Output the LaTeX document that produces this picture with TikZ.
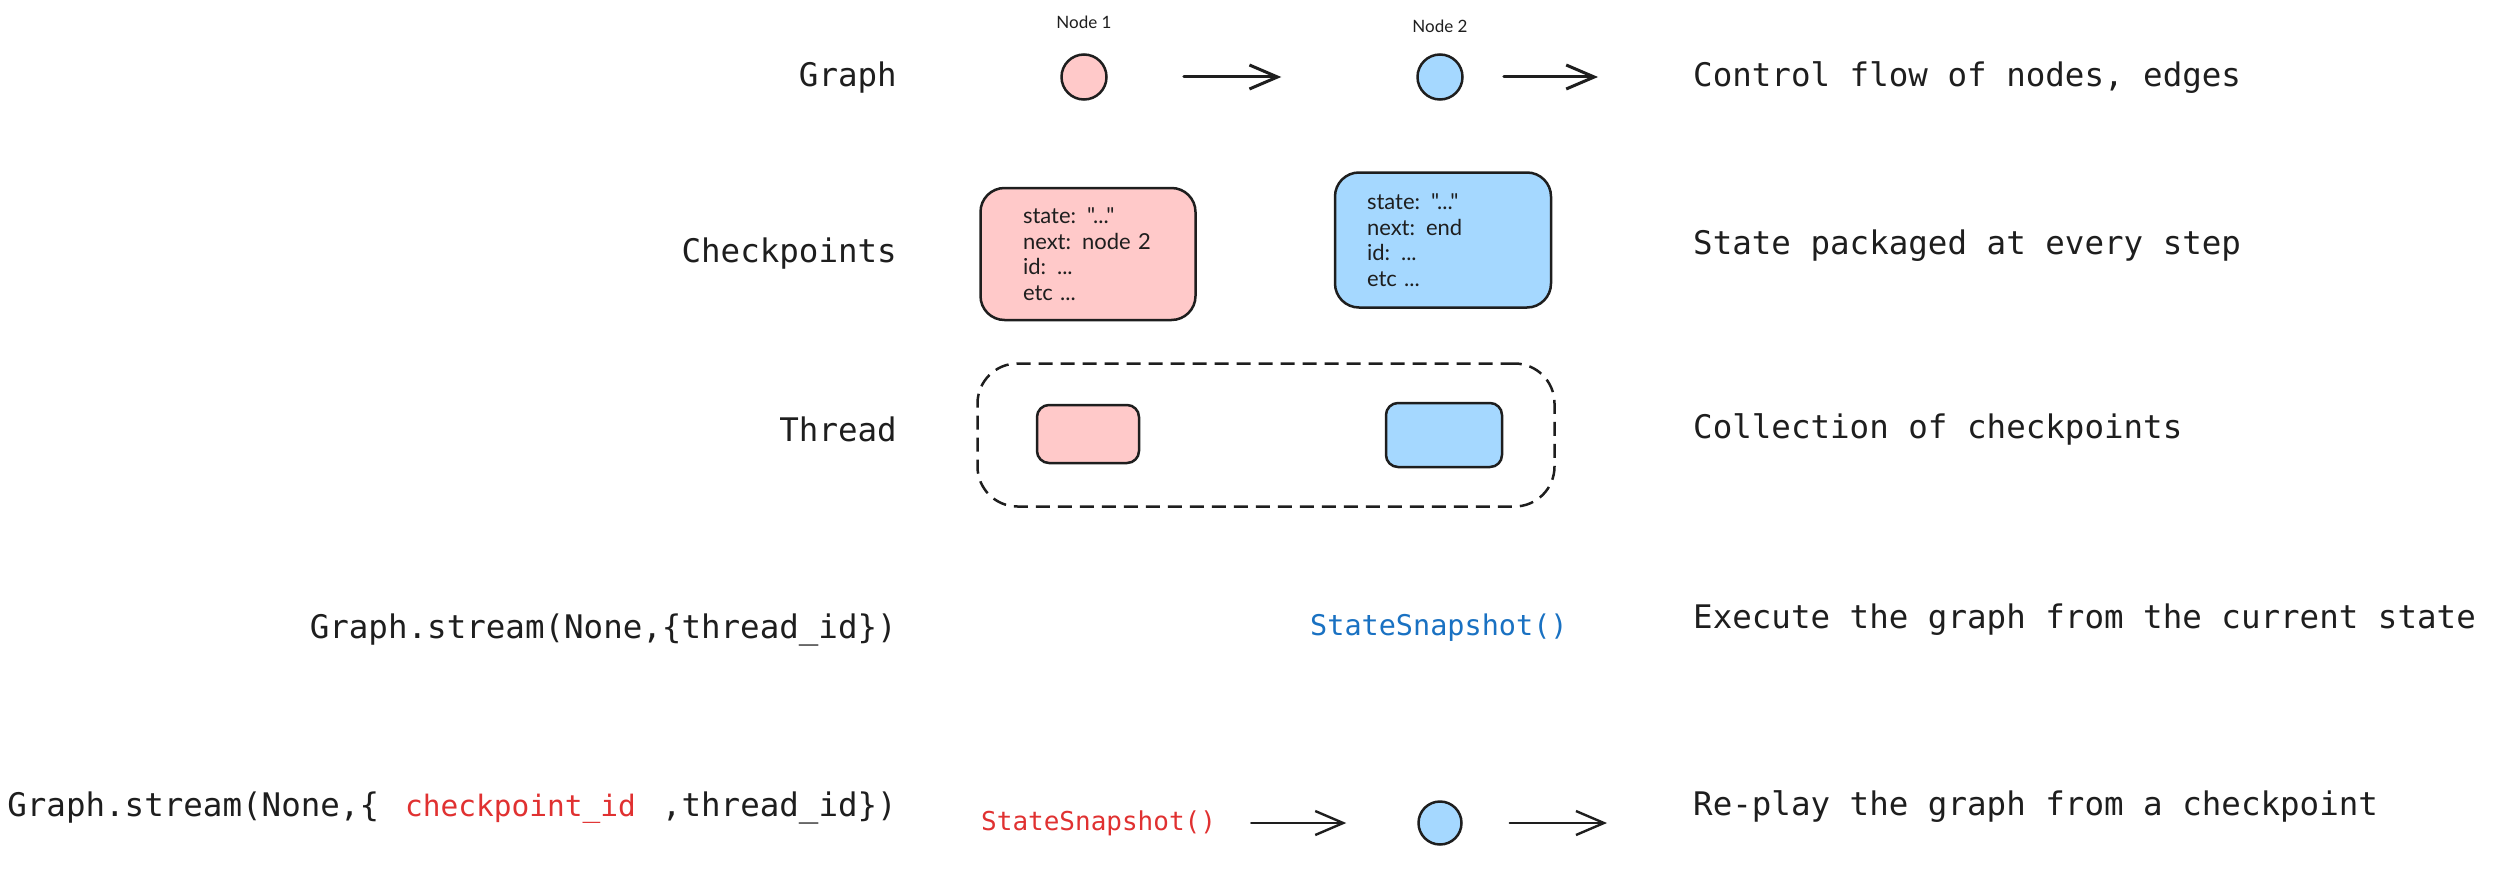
\documentclass[tikz,border=0pt]{standalone}
\usepackage{fontspec}
\usepackage{xcolor}
\usepackage{tikz}
\usetikzlibrary{positioning,arrows.meta}
\setmonofont{DejaVu Sans Mono}
\newfontfamily\handfont{Lato}
\definecolor{inkdark}{HTML}{1E1E1E}
\definecolor{nodepink}{HTML}{FFC9C9}
\definecolor{nodeblue}{HTML}{A5D8FF}
\definecolor{codeblue}{HTML}{1971C2}
\definecolor{codered}{HTML}{E03131}

\begin{document}
\begin{tikzpicture}[
  x=1pt, y=-1pt,
  lbl/.style={font=\ttfamily\fontsize{32.5}{39}\selectfont, text=inkdark, inner sep=0pt},
  rowlbl/.style={lbl, anchor=east},
  desc/.style={lbl, anchor=west},
  gnode/.style={circle, draw=inkdark, line width=2.5pt, minimum size=45pt, inner sep=0pt},
  card/.style={draw=inkdark, line width=2.5pt, rounded corners=24pt, inner sep=0pt, align=left,
    font=\handfont\fontsize{22}{25.5}\selectfont, text=inkdark},
  chip/.style={draw=inkdark, line width=2.5pt, rounded corners=12pt, inner sep=0pt},
  tag/.style={font=\handfont\fontsize{17}{20}\selectfont, text=inkdark, inner sep=0pt},
  arr/.style={-{Straight Barb[length=28pt,width=24pt]}, line width=3pt, draw=inkdark, line cap=round}
]
\useasboundingbox (0,0) rectangle (2493,875);

% left column
\node[rowlbl] (graphlbl) at (897,78) {Graph};
\node[rowlbl] (cplbl) at (897,254) {Checkpoints};
\node[rowlbl] (thrlbl) at (897,429) {Thread};
\node[rowlbl] (streamlbl) at (897,630) {Graph.stream(None,\{thread\_id\})};
\node[rowlbl] (replaylbl) at (897,808) {Graph.stream(None,\{\hspace{26pt}{\fontsize{29.5}{35}\selectfont\color{codered}checkpoint\_id}\hspace{26pt},thread\_id\})};

% graph row
\node[gnode, fill=nodepink] (n1) at (1084,77) {};
\node[tag] (n1l) at (1084,22) {Node 1};
\node[gnode, fill=nodeblue] (n2) at (1440,77) {};
\node[tag] (n2l) at (1440,26) {Node 2};
\coordinate (n2out) at (1598,77);
\draw[arr, shorten <=76pt, shorten >=135pt] (n1) -- (n2);
\draw[arr, shorten <=40pt] (n2) -- (n2out);

% checkpoints row
\node[card, fill=nodepink, minimum width=215pt, minimum height=132pt, text width=130pt] (cp1) at (1088,254)
  {state: "..."\\next: node 2\\id: ...\\etc ...};
\node[card, fill=nodeblue, minimum width=216pt, minimum height=135pt, text width=152pt] (cp2) at (1443,240)
  {state: "..."\\next: end\\id: ...\\etc ...};

% thread row
\node[draw=inkdark, line width=2.5pt, dash pattern=on 14pt off 8pt, rounded corners=40pt,
  minimum width=577pt, minimum height=143pt] (thread) at (1266,435) {};
\node[chip, fill=nodepink, minimum width=102pt, minimum height=58pt] (t1) at (1088,434) {};
\node[chip, fill=nodeblue, minimum width=116pt, minimum height=64pt] (t2) at (1444,435) {};

% stream rows
\node[lbl, anchor=west, font=\ttfamily\fontsize{28.5}{34}\selectfont, text=codeblue] (snap1) at (1310,628) {StateSnapshot()};
\node[lbl, anchor=west, font=\ttfamily\fontsize{26}{31}\selectfont, text=codered] (snap2) at (981,823) {StateSnapshot()};
\node[gnode, fill=nodeblue, minimum size=43pt] (n3) at (1440,823) {};
\coordinate (n3out) at (1607,823);
\draw[arr, line width=2.4pt, shorten <=35pt, shorten >=71pt] (snap2) -- (n3);
\draw[arr, line width=2.4pt, shorten <=47pt] (n3) -- (n3out);

% right column
\node[desc] (graphd) at (1693,78) {Control flow of nodes, edges};
\node[desc] (cpd) at (1693,246) {State packaged at every step};
\node[desc] (thrd) at (1693,429) {Collection of checkpoints};
\node[desc] (streamd) at (1693,620) {Execute the graph from the current state};
\node[desc] (replayd) at (1693,807) {Re-play the graph from a checkpoint};
\end{tikzpicture}
\end{document}
